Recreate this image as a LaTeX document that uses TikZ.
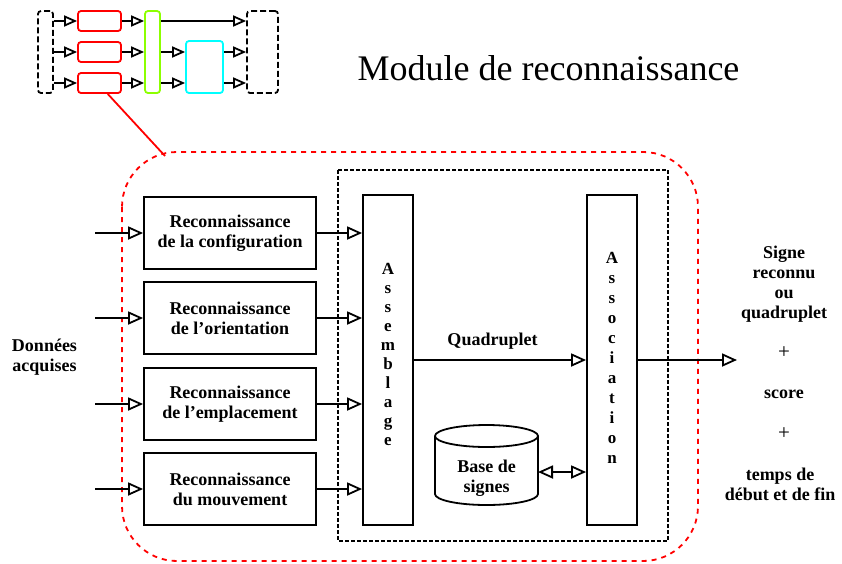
\documentclass[tikz,border=0pt]{standalone}
\usepackage{fontspec}
\setmainfont{Liberation Serif}
\usetikzlibrary{arrows.meta}
\definecolor{mygreen}{RGB}{140,255,0}
\definecolor{mycyan}{RGB}{0,255,255}
\begin{document}
\begin{tikzpicture}[x=1pt,y=-1pt, line width=1.8pt,
  tri/.style={-{Triangle[open,length=15pt,width=13pt]}},
  dtri/.style={{Triangle[open,length=15pt,width=13pt]}-{Triangle[open,length=15pt,width=13pt]}},
  minitri/.style={-{Triangle[open,length=13pt,width=11pt]}},
  bt/.style={font=\bfseries\fontsize{18}{20}\selectfont, align=center, inner sep=0pt},
  rbox/.style={draw, minimum width=172pt, minimum height=72pt, inner sep=0pt, bt},
  vbox/.style={draw, minimum width=50pt, minimum height=330pt, inner sep=0pt},
  vtext/.style={font=\bfseries\fontsize{17}{19}\selectfont, align=center, inner sep=0pt},
  mbox/.style={draw, rounded corners=3pt, inner sep=0pt},
  mdash/.style={dash pattern=on 6pt off 3pt},
]
\useasboundingbox (0,0) rectangle (842,563);

% mini diagram
\node[mbox, mdash, minimum width=15pt, minimum height=82pt] (ml) at (45.5,52) {};
\node[mbox, draw=red, minimum width=43pt, minimum height=20pt] (r1) at (99.5,21) {};
\node[mbox, draw=red, minimum width=43pt, minimum height=20pt] (r2) at (99.5,52) {};
\node[mbox, draw=red, minimum width=43pt, minimum height=20pt] (r3) at (99.5,83) {};
\node[mbox, draw=mygreen, minimum width=15pt, minimum height=82pt] (g) at (152.5,52) {};
\node[mbox, draw=mycyan, minimum width=37pt, minimum height=52pt] (c) at (204.5,67) {};
\node[mbox, mdash, minimum width=31pt, minimum height=82pt] (mr) at (262.5,52) {};
\foreach \r in {r1,r2,r3}{
  \draw[minitri] (ml.east |- \r) -- (\r.west);
  \draw[minitri] (\r.east) -- (g.west |- \r);
}
\draw[minitri] (g.east |- r1) -- (mr.west |- r1);
\draw[minitri] (g.east |- r2) -- (c.west |- r2);
\draw[minitri] (g.east |- r3) -- (c.west |- r3);
\draw[minitri] (c.east |- r2) -- (mr.west |- r2);
\draw[minitri] (c.east |- r3) -- (mr.west |- r3);

% title
\node[font=\fontsize{36}{40}\selectfont, inner sep=0pt] (title) at (548.5,68) {Module de reconnaissance};

% frames
\draw[red, dash pattern=on 5pt off 5pt, rounded corners=55pt] (122,152) rectangle (698,561);
\draw[dash pattern=on 4pt off 2pt, line width=1.3pt] (338,170) rectangle (668,541);
\coordinate (zoomend) at (165,156);
\draw[red] (r3.-53) -- (zoomend);

% recognition boxes
\node[rbox] (b1) at (230,233) {Reconnaissance\\de la configuration};
\node[rbox] (b2) at (230,318) {Reconnaissance\\de l’orientation};
\node[rbox] (b3) at (230,404) {Reconnaissance\\de l’emplacement};
\node[rbox] (b4) at (230,489) {Reconnaissance\\du mouvement};

\node[vbox] (asm) at (388,360) {};
\node[vtext] (asmt) at (388,354) {A\\s\\s\\e\\m\\b\\l\\a\\g\\e};
\node[vbox] (assoc) at (612,360) {};
\node[vtext, font=\bfseries\fontsize{17}{20}\selectfont] (assoct) at (612,358) {A\\s\\s\\o\\c\\i\\a\\t\\i\\o\\n};

\foreach \b/\y in {b1/233,b2/318,b3/404,b4/489}{
  \coordinate (in\b) at (95,\y);
  \draw[tri] (in\b) -- (\b.west);
  \draw[tri] (\b.east) -- (asm.west |- \b.east);
}

\draw[tri] (asm.east) -- (assoc.west);
\node[bt] (quad) at (492.5,341) {Quadruplet};
\coordinate (out) at (737,360);
\draw[tri] (assoc.east) -- (out);

% database cylinder
\draw[fill=white] (435,436) -- (435,494) arc[start angle=180,end angle=360,x radius=51.5pt,y radius=11pt] -- (538,436);
\draw (486.5,436) ellipse[x radius=51.5pt, y radius=11pt];
\node[bt] (base) at (486.5,478) {Base de\\signes};
\coordinate (baseE) at (538,472);
\draw[dtri] (baseE) -- (assoc.west |- baseE);

% texts
\node[bt] (don) at (44.5,357) {Données\\acquises};
\node[bt] (sig) at (784,284) {Signe\\reconnu\\ou\\quadruplet};
\node[font=\fontsize{21}{22}\selectfont, inner sep=0pt] (p1) at (784,353) {+};
\node[bt] (sc) at (784,394) {score};
\node[font=\fontsize{21}{22}\selectfont, inner sep=0pt] (p2) at (784,434) {+};
\node[bt] (tps) at (780,484) {temps de\\début et de fin};
\end{tikzpicture}
\end{document}
